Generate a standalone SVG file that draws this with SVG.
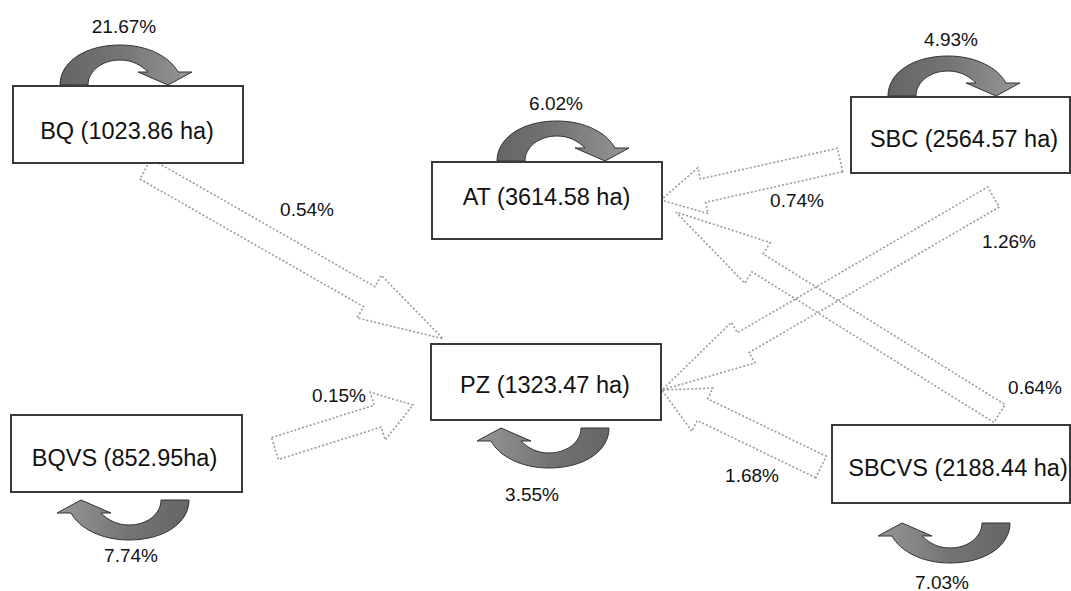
<svg xmlns="http://www.w3.org/2000/svg" width="1071" height="591" viewBox="0 0 1071 591">
  <style>
    .box { fill: #ffffff; stroke: #3a3a3a; stroke-width: 2; }
    .lbl { font-family: "Liberation Sans", Arial, sans-serif; font-size: 23.5px; fill: #111; text-anchor: middle; }
    .pct { font-family: "Liberation Sans", Arial, sans-serif; font-size: 19px; fill: #111; text-anchor: middle; }
    .flow { fill: none; stroke: #9a9a9a; stroke-width: 1.6; stroke-dasharray: 2 2; }
    .loop { fill: url(#loopFill); stroke: #333; stroke-width: 1; }
  </style>
  <defs>
    <linearGradient id="loopFill" x1="0" y1="0" x2="1" y2="0">
      <stop offset="0" stop-color="#656565"/>
      <stop offset="0.45" stop-color="#747474"/>
      <stop offset="1" stop-color="#969696"/>
    </linearGradient>
    <!-- curved retention arrow; origin at the outer foot of the tail -->
    <path id="selfLoop" class="loop" d="M0,0 C0,-23 25,-40 60,-40 C88,-40 110,-28 118,-13 L132,-13 L108,0 L78,-13 L88,-13 C81,-20 72,-25 60,-25 C42,-25 28,-14 28,0 Z"/>
  </defs>

  <rect width="1071" height="591" fill="#ffffff"/>

  <!-- transition flows between classes -->
  <g id="connectors">
    <path class="flow" transform="translate(145.5,169) rotate(29.7)" d="M0,-11.5 H257.6 V-24.5 L342.6,0 L257.6,24.5 V11.5 H0 Z"/>
    <path class="flow" transform="translate(275,448.5) rotate(-17.5)" d="M0,-11.5 H107.7 V-25 L144.7,0 L107.7,25 V11.5 H0 Z"/>
    <path class="flow" transform="translate(840,160) rotate(167.4)" d="M0,-12 H140.4 V-23.5 L183.4,0 L140.4,23.5 V12 H0 Z"/>
    <path class="flow" transform="translate(999.5,413.5) rotate(211.9)" d="M0,-10.5 H285 V-24 L381,0 L285,24 V10.5 H0 Z"/>
    <path class="flow" transform="translate(993.5,197) rotate(149.8)" d="M0,-11.5 H289.6 V-23.5 L383.6,0 L289.6,23.5 V11.5 H0 Z"/>
    <path class="flow" transform="translate(821,467) rotate(205.8)" d="M0,-12 H131.7 V-24 L176.7,0 L131.7,24 V12 H0 Z"/>
    <text class="pct" x="307" y="216">0.54%</text>
    <text class="pct" x="339" y="402">0.15%</text>
    <text class="pct" x="797" y="207">0.74%</text>
    <text class="pct" x="1009" y="248">1.26%</text>
    <text class="pct" x="1035" y="394">0.64%</text>
    <text class="pct" x="752" y="482">1.68%</text>
  </g>

  <g id="BQ">
    <use href="#selfLoop" transform="translate(60,85)"/>
    <text class="pct" x="124" y="33">21.67%</text>
    <rect class="box" x="13" y="86" width="230" height="77"/>
    <text class="lbl" x="127" y="139">BQ (1023.86 ha)</text>
  </g>

  <g id="AT">
    <use href="#selfLoop" transform="translate(497,161)"/>
    <text class="pct" x="556" y="110">6.02%</text>
    <rect class="box" x="432" y="162" width="230" height="77"/>
    <text class="lbl" x="546.5" y="205">AT (3614.58 ha)</text>
  </g>

  <g id="SBC">
    <use href="#selfLoop" transform="translate(888,96)"/>
    <text class="pct" x="951" y="46">4.93%</text>
    <rect class="box" x="851" y="97" width="219" height="76"/>
    <text class="lbl" x="964" y="147">SBC (2564.57 ha)</text>
  </g>

  <g id="PZ">
    <rect class="box" x="431" y="344" width="230" height="76"/>
    <text class="lbl" x="545" y="393">PZ (1323.47 ha)</text>
    <use href="#selfLoop" transform="translate(609,428) rotate(180)"/>
    <text class="pct" x="532" y="501">3.55%</text>
  </g>

  <g id="BQVS">
    <rect class="box" x="11" y="415" width="231" height="77"/>
    <text class="lbl" x="124.5" y="466">BQVS (852.95ha)</text>
    <use href="#selfLoop" transform="translate(189,500) rotate(180)"/>
    <text class="pct" x="131" y="562">7.74%</text>
  </g>

  <g id="SBCVS">
    <rect class="box" x="832" y="425" width="238" height="78"/>
    <text class="lbl" x="958" y="476">SBCVS (2188.44 ha)</text>
    <use href="#selfLoop" transform="translate(1010,523) rotate(180)"/>
    <text class="pct" x="942" y="589">7.03%</text>
  </g>
</svg>
